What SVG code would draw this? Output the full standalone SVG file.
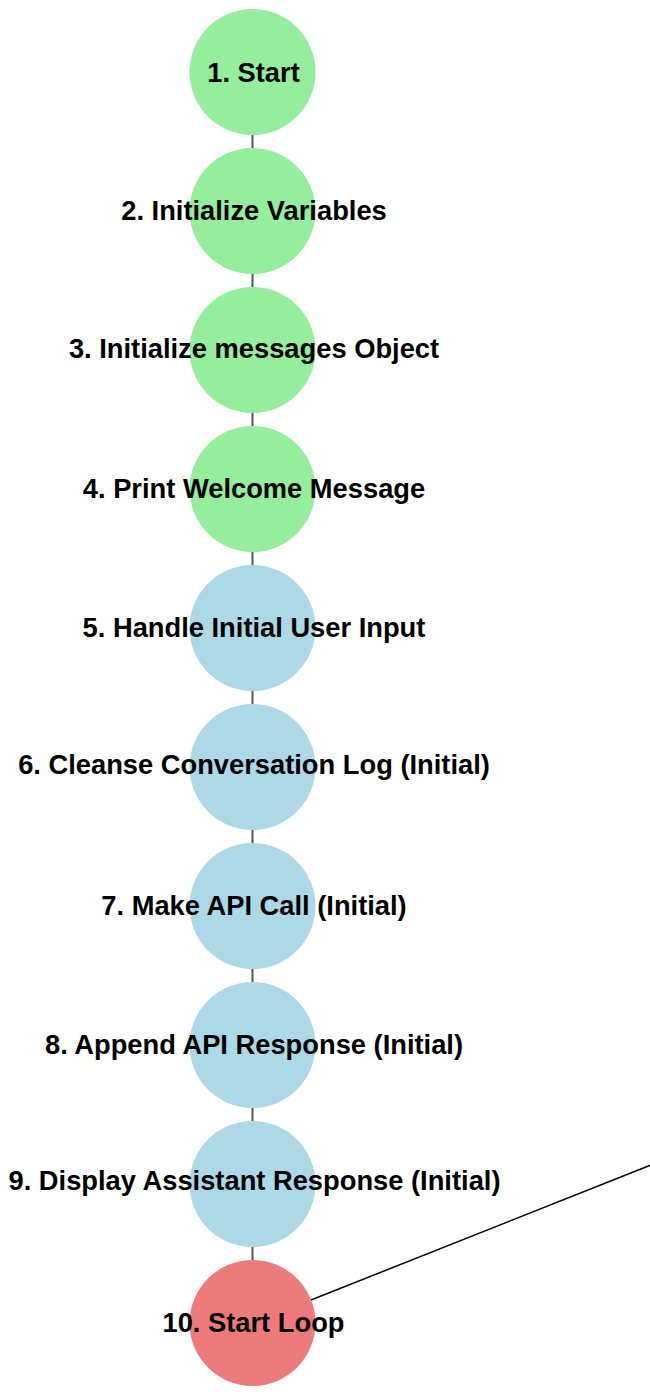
<svg xmlns="http://www.w3.org/2000/svg" width="650" height="1398" viewBox="0 0 650 1398">
<style>
.n circle{stroke:none}
.g{fill:#95ee9b}
.b{fill:#add8e6}
.r{fill:#ee7b7b}
.n text{font-family:"Liberation Sans",Arial,sans-serif;font-weight:bold;font-size:27.3px;fill:#000;text-anchor:middle}
.e{stroke:#555;stroke-width:2}
.d{stroke:#000;stroke-width:1.5}
</style>
<rect width="650" height="1398" fill="#fff"/>
<g id="connectors">
<line class="e" x1="252.5" y1="135" x2="252.5" y2="148"/>
<line class="e" x1="252.5" y1="274" x2="252.5" y2="287"/>
<line class="e" x1="252.5" y1="413" x2="252.5" y2="426"/>
<line class="e" x1="252.5" y1="552" x2="252.5" y2="565"/>
<line class="e" x1="252.5" y1="691" x2="252.5" y2="704"/>
<line class="e" x1="252.5" y1="830" x2="252.5" y2="843"/>
<line class="e" x1="252.5" y1="969" x2="252.5" y2="982"/>
<line class="e" x1="252.5" y1="1108" x2="252.5" y2="1121"/>
<line class="e" x1="252.5" y1="1247" x2="252.5" y2="1260"/>
<line class="d" x1="311" y1="1300" x2="700" y2="1145.5"/>
</g>
<g id="node1" class="n"><circle class="g" cx="252.5" cy="72" r="63"/><text x="253.5" y="82">1. Start</text></g>
<g id="node2" class="n"><circle class="g" cx="252.5" cy="211" r="63"/><text x="254" y="220">2. Initialize Variables</text></g>
<g id="node3" class="n"><circle class="g" cx="252.5" cy="350" r="63"/><text x="254" y="358">3. Initialize messages Object</text></g>
<g id="node4" class="n"><circle class="g" cx="252.5" cy="489" r="63"/><text x="254" y="498">4. Print Welcome Message</text></g>
<g id="node5" class="n"><circle class="b" cx="252.5" cy="628" r="63"/><text x="254" y="637">5. Handle Initial User Input</text></g>
<g id="node6" class="n"><circle class="b" cx="252.5" cy="767" r="63"/><text x="254" y="774">6. Cleanse Conversation Log (Initial)</text></g>
<g id="node7" class="n"><circle class="b" cx="252.5" cy="906" r="63"/><text x="254" y="915">7. Make API Call (Initial)</text></g>
<g id="node8" class="n"><circle class="b" cx="252.5" cy="1045" r="63"/><text x="254" y="1054">8. Append API Response (Initial)</text></g>
<g id="node9" class="n"><circle class="b" cx="252.5" cy="1184" r="63"/><text x="254.5" y="1190">9. Display Assistant Response (Initial)</text></g>
<g id="node10" class="n"><circle class="r" cx="252.5" cy="1323" r="63"/><text x="253.5" y="1332">10. Start Loop</text></g>
</svg>
